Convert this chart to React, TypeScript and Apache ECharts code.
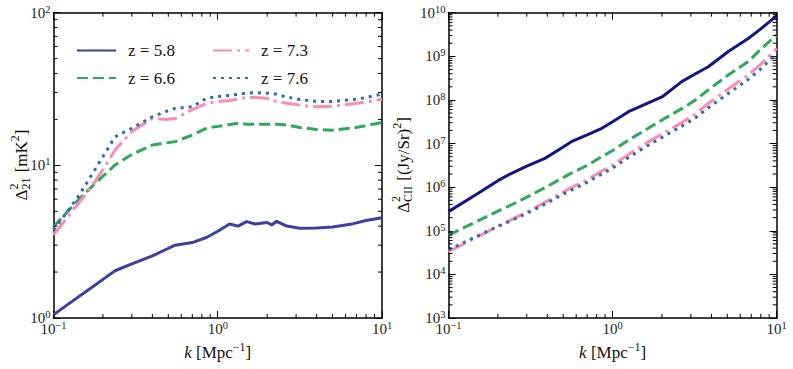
import React, { useEffect, useRef } from 'react';
import * as echarts from 'echarts';

const FONT = '"Liberation Serif", "DejaVu Serif", serif';

// ---------- Left panel: 21-cm power spectrum, Delta^2_21 [mK^2] ----------
const k21 = [0.1, 0.12, 0.145, 0.17, 0.2, 0.237, 0.3, 0.4, 0.48, 0.55, 0.7, 0.86, 1.0, 1.18, 1.33, 1.5, 1.69, 2.0, 2.13, 2.28, 2.63, 3.16, 4.0, 5.0, 6.7, 8.0, 10];
const d21_z58 = [1.05, 1.21, 1.4, 1.58, 1.79, 2.04, 2.26, 2.55, 2.8, 3.0, 3.12, 3.38, 3.7, 4.13, 4.0, 4.28, 4.13, 4.22, 4.07, 4.3, 4.0, 3.87, 3.88, 3.95, 4.15, 4.35, 4.54];
const d21_z66 = [3.96, 4.9, 6.1, 7.2, 8.5, 10.05, 11.8, 13.6, 14.0, 14.3, 15.8, 17.6, 18.0, 18.5, 18.9, 18.6, 18.6, 18.6, 18.6, 18.6, 18.4, 17.7, 17.2, 17.0, 17.6, 18.2, 19.1];
const d21_z73 = [3.5, 4.5, 5.8, 7.2, 9.4, 12.6, 16.7, 20.3, 20.0, 20.3, 23.2, 25.5, 26.2, 26.6, 27.2, 27.8, 27.9, 27.4, 26.8, 26.2, 25.5, 24.8, 24.2, 24.4, 25.3, 26.0, 27.1];
const d21_z76 = [3.77, 4.9, 6.5, 8.6, 11.4, 15.4, 17.5, 20.8, 22.5, 23.6, 24.2, 27.6, 28.2, 28.7, 29.2, 29.8, 29.9, 29.7, 29.6, 29.2, 28.0, 27.0, 26.2, 26.2, 27.0, 27.8, 29.3];

// ---------- Right panel: [CII] power spectrum, Delta^2_CII [(Jy/Sr)^2] ----------
const kCII = [0.1, 0.15, 0.2, 0.237, 0.3, 0.387, 0.5, 0.56, 0.7, 0.86, 1.0, 1.25, 1.6, 2.0, 2.64, 3.2, 3.83, 5.07, 6.71, 8.0, 10];
const dCII_z58 = [2.75e5, 7.08e5, 1.41e6, 2.0e6, 3.02e6, 4.57e6, 8.32e6, 1.1e7, 1.58e7, 2.24e7, 3.16e7, 5.37e7, 8.13e7, 1.17e8, 2.63e8, 3.98e8, 5.75e8, 1.29e9, 2.57e9, 4.27e9, 8.51e9];
const dCII_z66 = [7.94e4, 1.66e5, 2.82e5, 3.8e5, 5.89e5, 9.77e5, 1.66e6, 2.09e6, 3.16e6, 5.01e6, 6.92e6, 1.2e7, 2.09e7, 3.47e7, 6.31e7, 1.0e8, 1.7e8, 3.72e8, 7.59e8, 1.45e9, 3.09e9];
const dCII_z73 = [3.31e4, 7.24e4, 1.26e5, 1.74e5, 2.69e5, 4.47e5, 7.76e5, 9.77e5, 1.48e6, 2.34e6, 3.24e6, 5.62e6, 1.02e7, 1.66e7, 3.02e7, 4.79e7, 8.32e7, 1.78e8, 3.72e8, 6.61e8, 1.51e9];
const dCII_z76 = [3.63e4, 7.59e4, 1.26e5, 1.66e5, 2.51e5, 4.07e5, 6.92e5, 8.51e5, 1.29e6, 2.0e6, 2.75e6, 4.79e6, 8.51e6, 1.38e7, 2.51e7, 3.89e7, 6.61e7, 1.41e8, 2.95e8, 5.13e8, 1.17e9];

const seriesNames = ['z = 5.8', 'z = 6.6', 'z = 7.3', 'z = 7.6'];

// axis ranges and minor tick positions
const kRange = [0.1, 10];
const y21Range = [1, 100];
const yCIIRange = [1e3, 1e10];
const minorK = [0.2, 0.3, 0.4, 0.5, 0.6, 0.7, 0.8, 0.9, 2, 3, 4, 5, 6, 7, 8, 9];
const minorY21 = [2, 3, 4, 5, 6, 7, 8, 9, 20, 30, 40, 50, 60, 70, 80, 90];
const minorYCII: number[] = [];
for (let e = 3; e < 10; e++) for (let m = 2; m <= 9; m++) minorYCII.push(m * Math.pow(10, e));

const COLORS = {
  z58left: '#3f3f9e',
  z58right: '#141486',
  z66: '#2ea85c',
  z73: '#ff8cb0',
  z76: '#2d6bb5',
};

const STYLES = [
  { type: 'solid' as any },
  { type: [11, 5], cap: 'butt' },
  { type: [19, 5, 3, 5], cap: 'butt' },
  { type: [3, 5], cap: 'butt' },
];

const supFmt = (v: number) => {
  const e = Math.round(Math.log10(v));
  return `{b|10}{s|${e < 0 ? '\u2212' : ''}${Math.abs(e)}}`;
};

const tickRich = {
  b: { fontSize: 15, fontFamily: FONT, color: '#222', lineHeight: 18 },
  s: { fontSize: 10.5, fontFamily: FONT, color: '#222', lineHeight: 10, verticalAlign: 'top' },
};

let measureCtx: CanvasRenderingContext2D | null = null;
function measure(text: string, size: number) {
  if (!measureCtx) measureCtx = document.createElement('canvas').getContext('2d');
  measureCtx!.font = `${size}px "Liberation Serif"`;
  return measureCtx!.measureText(text).width;
}

function yName(cx: number, cy: number, sub: string, unit: string) {
  const big = 17;
  const small = 12;
  const wD = measure('\u0394', big);
  const wSup = measure('2', small);
  const wSub = measure(sub, small);
  const wU = measure(unit, big);
  const wS2 = measure('2', small);
  const wB = measure(']', big);
  const W = wD + Math.max(wSup, wSub) + 1 + wU + wS2 + wB;
  let x = -W / 2;
  const mk = (text: string, px: number, py: number, size: number) => ({
    type: 'text',
    x: px,
    y: py,
    style: {
      text,
      fontSize: size,
      fontFamily: FONT,
      fill: '#111',
      align: 'left',
      verticalAlign: 'middle',
      textAlign: 'left',
      textVerticalAlign: 'middle',
    },
  });
  const children: any[] = [];
  children.push(mk('\u0394', x, 0, big));
  x += wD;
  children.push(mk('2', x, -7, small));
  children.push(mk(sub, x, 5, small));
  x += Math.max(wSup, wSub) + 1;
  children.push(mk(unit, x, 0, big));
  x += wU;
  children.push(mk('2', x, -6, small));
  x += wS2;
  children.push(mk(']', x, 0, big));
  return { type: 'group', x: cx, y: cy, rotation: Math.PI / 2, children, silent: true };
}

function tickSeries(xAxisIndex: number, yAxisIndex: number, data: number[][]) {
  return {
    type: 'custom',
    xAxisIndex,
    yAxisIndex,
    silent: true,
    clip: false,
    z: 5,
    encode: { x: 0, y: 1 },
    data,
    renderItem: (_params: any, api: any) => {
      const p = api.coord([api.value(0), api.value(1)]);
      const dx = api.value(2);
      const dy = api.value(3);
      return {
        type: 'line',
        shape: { x1: p[0], y1: p[1], x2: p[0] + dx, y2: p[1] + dy },
        style: { stroke: '#000', lineWidth: 1 },
      };
    },
  };
}

function minorData(xr: number[], yr: number[], mx: number[], my: number[]) {
  const L = 4;
  const out: number[][] = [];
  mx.forEach((k) => {
    out.push([k, yr[0], 0, -L]);
    out.push([k, yr[1], 0, L]);
  });
  my.forEach((v) => {
    out.push([xr[0], v, L, 0]);
    out.push([xr[1], v, -L, 0]);
  });
  return out;
}

const axisLineStyle = { show: true, lineStyle: { color: '#000', width: 1.5 } };
const majorTick = { show: true, inside: true, length: 7, lineStyle: { color: '#000', width: 1 } };

function xAxes(grid: number) {
  return [
    {
      type: 'log',
      logBase: 10,
      gridIndex: grid,
      min: kRange[0],
      max: kRange[1],
      position: 'bottom',
      axisLine: axisLineStyle,
      axisTick: majorTick,
      splitLine: { show: false },
      axisLabel: { formatter: supFmt, rich: tickRich, margin: 2 },
      name: '{i|k} [Mpc{s|\u22121}]',
      nameLocation: 'middle',
      nameGap: 19,
      nameTextStyle: {
        fontSize: 17,
        fontFamily: FONT,
        color: '#111',
        lineHeight: 22,
        rich: {
          i: { fontSize: 17, fontFamily: FONT, fontStyle: 'italic', color: '#111', lineHeight: 22 },
          s: { fontSize: 12, fontFamily: FONT, color: '#111', lineHeight: 12, verticalAlign: 'top' },
        },
      },
    },
    {
      type: 'log',
      logBase: 10,
      gridIndex: grid,
      min: kRange[0],
      max: kRange[1],
      position: 'top',
      axisLine: axisLineStyle,
      axisTick: majorTick,
      splitLine: { show: false },
      axisLabel: { show: false },
    },
  ];
}

function yAxes(grid: number, range: number[], split: number) {
  const base = {
    type: 'log',
    logBase: 10,
    gridIndex: grid,
    min: range[0],
    max: range[1],
    splitNumber: split,
    axisLine: axisLineStyle,
    axisTick: majorTick,
    splitLine: { show: false },
  };
  return [
    { ...base, position: 'left', axisLabel: { formatter: supFmt, rich: tickRich, margin: 3 } },
    { ...base, position: 'right', axisLabel: { show: false } },
  ];
}

function lineSeries(name: string, xi: number, yi: number, ks: number[], vs: number[], color: string, idx: number) {
  return {
    name,
    type: 'line',
    xAxisIndex: xi,
    yAxisIndex: yi,
    data: ks.map((k, i) => [k, vs[i]]),
    symbol: 'none',
    showSymbol: false,
    smooth: false,
    z: 3,
    lineStyle: { color, width: 3, ...STYLES[idx] },
    itemStyle: { color },
  };
}

export default function App() {
  const ref = useRef<HTMLDivElement>(null);
  useEffect(() => {
    if (!ref.current) return;
    const chart = echarts.init(ref.current, undefined, { renderer: 'svg' });
    const legendText = { fontSize: 17, fontFamily: FONT, color: '#111', padding: [0, 0, 0, 7] };
    const option: any = {
      animation: false,
      backgroundColor: '#fff',
      grid: [
        { left: 53.5, right: 411, top: 12.7, bottom: 51 },
        { left: 448.5, right: 16.3, top: 12.7, bottom: 51 },
      ],
      xAxis: [...xAxes(0), ...xAxes(1)],
      yAxis: [...yAxes(0, y21Range, 5), ...yAxes(1, yCIIRange, 10)],
      legend: [
        {
          data: [seriesNames[0], seriesNames[1]],
          orient: 'vertical',
          left: 71,
          top: 37,
          itemWidth: 39,
          itemHeight: 14,
          itemGap: 10.5,
          textStyle: legendText,
          itemStyle: { opacity: 0 },
          selectedMode: false,
        },
        {
          data: [seriesNames[2], seriesNames[3]],
          orient: 'vertical',
          left: 207,
          top: 37,
          itemWidth: 36,
          itemHeight: 14,
          itemGap: 10.5,
          textStyle: legendText,
          itemStyle: { opacity: 0 },
          selectedMode: false,
        },
      ],
      graphic: [
        yName(21, 165, '21', ' [mK'),
        yName(403, 165, 'CII', ' [(Jy/Sr)'),
      ],
      series: [
        lineSeries(seriesNames[0], 0, 0, k21, d21_z58, COLORS.z58left, 0),
        lineSeries(seriesNames[1], 0, 0, k21, d21_z66, COLORS.z66, 1),
        lineSeries(seriesNames[2], 0, 0, k21, d21_z73, COLORS.z73, 2),
        lineSeries(seriesNames[3], 0, 0, k21, d21_z76, COLORS.z76, 3),
        lineSeries(seriesNames[0], 2, 2, kCII, dCII_z58, COLORS.z58right, 0),
        lineSeries(seriesNames[1], 2, 2, kCII, dCII_z66, COLORS.z66, 1),
        lineSeries(seriesNames[2], 2, 2, kCII, dCII_z73, COLORS.z73, 2),
        lineSeries(seriesNames[3], 2, 2, kCII, dCII_z76, COLORS.z76, 3),
        tickSeries(0, 0, minorData(kRange, y21Range, minorK, minorY21)),
        tickSeries(2, 2, minorData(kRange, yCIIRange, minorK, minorYCII)),
      ],
    };
    chart.setOption(option);
    return () => chart.dispose();
  }, []);
  return (
    <div
      ref={ref}
      style={{ position: 'absolute', left: 0, top: 0, width: 793, height: 369, background: '#fff' }}
    />
  );
}
